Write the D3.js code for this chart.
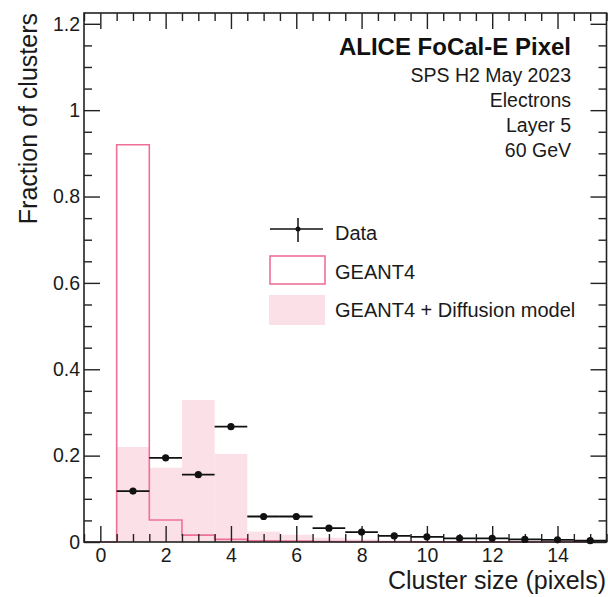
<!DOCTYPE html>
<html>
<head>
<meta charset="utf-8">
<script src="https://cdn.jsdelivr.net/npm/d3@7"></script>
<style>
  body { margin: 0; background: #fff; }
  svg { font-family: "Liberation Sans", Arial, Helvetica, sans-serif; }
  .tick text { font-size: 19.5px; fill: #1a1a1a; }
  .tick line { stroke: #222; stroke-width: 1.4; }
</style>
</head>
<body>
<div id="chart"></div>
<script>
// bin centres of the cluster size histogram (bin width 1)
var clusterSize = [0, 1, 2, 3, 4, 5, 6, 7, 8, 9, 10, 11, 12, 13, 14, 15];
var geant4 = [0, 0.92, 0.051, 0.016, 0.006, 0.003, 0.002, 0.0012, 0.0008, 0.0005, 0.0004, 0.0003, 0.0002, 0.0002, 0.0001, 0.0001];
var geant4Diffusion = [0, 0.22, 0.172, 0.329, 0.204, 0.024, 0.017, 0.010, 0.006, 0.004, 0.003, 0.002, 0.0015, 0.001, 0.001, 0.0008];

// measured points
var dataSize = [1, 2, 3, 4, 5, 6, 7, 8, 9, 10, 11, 12, 13, 14, 15];
var dataFrac = [0.118, 0.195, 0.156, 0.267, 0.059, 0.059, 0.032, 0.023, 0.014, 0.012, 0.0085, 0.0085, 0.006, 0.005, 0.003];
var dataErr = [0.002, 0.003, 0.002, 0.003, 0.001, 0.001, 0.001, 0.001, 0.001, 0.001, 0.001, 0.001, 0.001, 0.001, 0.001];

var xMajor = [0, 2, 4, 6, 8, 10, 12, 14];
var yMajor = [0, 0.2, 0.4, 0.6, 0.8, 1, 1.2];

var infoLines = ["SPS H2 May 2023", "Electrons", "Layer 5", "60 GeV"];
var legendLabels = ["Data", "GEANT4", "GEANT4 + Diffusion model"];

var pink = "#ee7097";
var pinkFill = "#fce0e8";

var W = 608, H = 597;
var padL = 84, padR = 606.5, padT = 13, padB = 542;

var svg = d3.select("#chart").append("svg")
  .attr("width", W)
  .attr("height", H);

var x = d3.scaleLinear().domain([-0.5, 15.5]).range([padL, padR]);
var y = d3.scaleLinear().domain([0, 1.225]).range([padB, padT]);

// GEANT4 + diffusion, filled bins
svg.append("g").selectAll("rect")
  .data(clusterSize)
  .enter().append("rect")
  .attr("x", function (d) { return x(d - 0.5); })
  .attr("width", function (d) { return x(d + 0.5) - x(d - 0.5); })
  .attr("y", function (d, i) { return y(geant4Diffusion[i]); })
  .attr("height", function (d, i) { return padB - y(geant4Diffusion[i]); })
  .style("fill", pinkFill);

// GEANT4 outline, step line
var steps = [];
clusterSize.forEach(function (d, i) {
  steps.push([d - 0.5, geant4[i]]);
  steps.push([d + 0.5, geant4[i]]);
});
var stepLine = d3.line()
  .x(function (d) { return x(d[0]); })
  .y(function (d) { return y(d[1]); });

svg.append("path")
  .datum(steps)
  .attr("d", stepLine)
  .style("fill", "none")
  .style("stroke", pink)
  .style("stroke-width", 1.6);

// axes: major and minor ticks, mirrored on top and right
var xMinor = d3.range(-0.5, 15.51, 0.5).filter(function (v) { return xMajor.indexOf(v) < 0; });
var yMinor = d3.range(0, 1.2251, 0.05).map(function (v) { return +v.toFixed(2); })
  .filter(function (v) { return yMajor.indexOf(v) < 0; });

function addAxis(axis, tx, ty) {
  var g = svg.append("g")
    .attr("transform", "translate(" + tx + "," + ty + ")")
    .call(axis);
  g.select(".domain").remove();
  return g;
}

addAxis(d3.axisBottom(x).tickValues(xMajor).tickSizeInner(-16).tickSizeOuter(0).tickPadding(6)
  .tickFormat(d3.format("d")), 0, padB);
addAxis(d3.axisBottom(x).tickValues(xMinor).tickSizeInner(-8).tickSizeOuter(0).tickFormat(""), 0, padB);
addAxis(d3.axisTop(x).tickValues(xMajor).tickSizeInner(-16).tickSizeOuter(0).tickFormat(""), 0, padT);
addAxis(d3.axisTop(x).tickValues(xMinor).tickSizeInner(-8).tickSizeOuter(0).tickFormat(""), 0, padT);

addAxis(d3.axisLeft(y).tickValues(yMajor).tickSizeInner(-16).tickSizeOuter(0).tickPadding(4)
  .tickFormat(function (d) { return d === 0 || d === 1 ? String(d) : d3.format(".1f")(d); }), padL, 0);
addAxis(d3.axisLeft(y).tickValues(yMinor).tickSizeInner(-8).tickSizeOuter(0).tickFormat(""), padL, 0);
addAxis(d3.axisRight(y).tickValues(yMajor).tickSizeInner(-16).tickSizeOuter(0).tickFormat(""), padR, 0);
addAxis(d3.axisRight(y).tickValues(yMinor).tickSizeInner(-8).tickSizeOuter(0).tickFormat(""), padR, 0);

// frame
svg.append("rect")
  .attr("x", padL)
  .attr("y", padT)
  .attr("width", padR - padL)
  .attr("height", padB - padT)
  .style("fill", "none")
  .style("stroke", "#222")
  .style("stroke-width", 1.6);

// data points with error bars
var pts = svg.append("g");
pts.selectAll(".xerr")
  .data(dataSize)
  .enter().append("line")
  .attr("x1", function (d) { return x(d - 0.5); })
  .attr("x2", function (d) { return x(d + 0.5); })
  .attr("y1", function (d, i) { return y(dataFrac[i]); })
  .attr("y2", function (d, i) { return y(dataFrac[i]); })
  .style("stroke", "#111")
  .style("stroke-width", 1.8);

pts.selectAll(".yerr")
  .data(dataSize)
  .enter().append("line")
  .attr("x1", function (d) { return x(d); })
  .attr("x2", function (d) { return x(d); })
  .attr("y1", function (d, i) { return y(dataFrac[i] - dataErr[i]); })
  .attr("y2", function (d, i) { return y(dataFrac[i] + dataErr[i]); })
  .style("stroke", "#111")
  .style("stroke-width", 1.8);

pts.selectAll("circle")
  .data(dataSize)
  .enter().append("circle")
  .attr("cx", function (d) { return x(d); })
  .attr("cy", function (d, i) { return y(dataFrac[i]); })
  .attr("r", 3.6)
  .style("fill", "#111");

// axis titles
svg.append("text")
  .attr("x", 606)
  .attr("y", 589)
  .style("text-anchor", "end")
  .style("font-size", "25px")
  .style("fill", "#1a1a1a")
  .text("Cluster size (pixels)");

svg.append("text")
  .attr("transform", "translate(37," + padT + ") rotate(-90)")
  .style("text-anchor", "end")
  .style("font-size", "25px")
  .style("fill", "#1a1a1a")
  .text("Fraction of clusters");

// labels top right
svg.append("text")
  .attr("x", 571)
  .attr("y", 55)
  .style("text-anchor", "end")
  .style("font-size", "24px")
  .style("font-weight", "bold")
  .style("fill", "#111")
  .text("ALICE FoCal-E Pixel");

svg.selectAll(".info")
  .data(infoLines)
  .enter().append("text")
  .attr("class", "info")
  .attr("x", 571)
  .attr("y", function (d, i) { return 82 + i * 25; })
  .style("text-anchor", "end")
  .style("font-size", "19.5px")
  .style("fill", "#1a1a1a")
  .text(function (d) { return d; });

// legend
var legend = svg.append("g");
legend.append("line")
  .attr("x1", 270).attr("x2", 323).attr("y1", 229).attr("y2", 229)
  .style("stroke", "#111").style("stroke-width", 1.5);
legend.append("line")
  .attr("x1", 298).attr("x2", 298).attr("y1", 218).attr("y2", 242)
  .style("stroke", "#111").style("stroke-width", 1.5);
legend.append("circle")
  .attr("cx", 298).attr("cy", 229).attr("r", 2.5)
  .style("fill", "#111");

legend.append("rect")
  .attr("x", 270).attr("y", 256).attr("width", 55).attr("height", 28)
  .style("fill", "#fff").style("stroke", pink).style("stroke-width", 1.6);

legend.append("rect")
  .attr("x", 269).attr("y", 295).attr("width", 56).attr("height", 30)
  .style("fill", pinkFill);

legend.selectAll(".ltext")
  .data(legendLabels)
  .enter().append("text")
  .attr("class", "ltext")
  .attr("x", 335)
  .attr("y", function (d, i) { return 240 + i * 38.5; })
  .style("font-size", "20px")
  .style("fill", "#1a1a1a")
  .text(function (d) { return d; });
</script>
</body>
</html>
